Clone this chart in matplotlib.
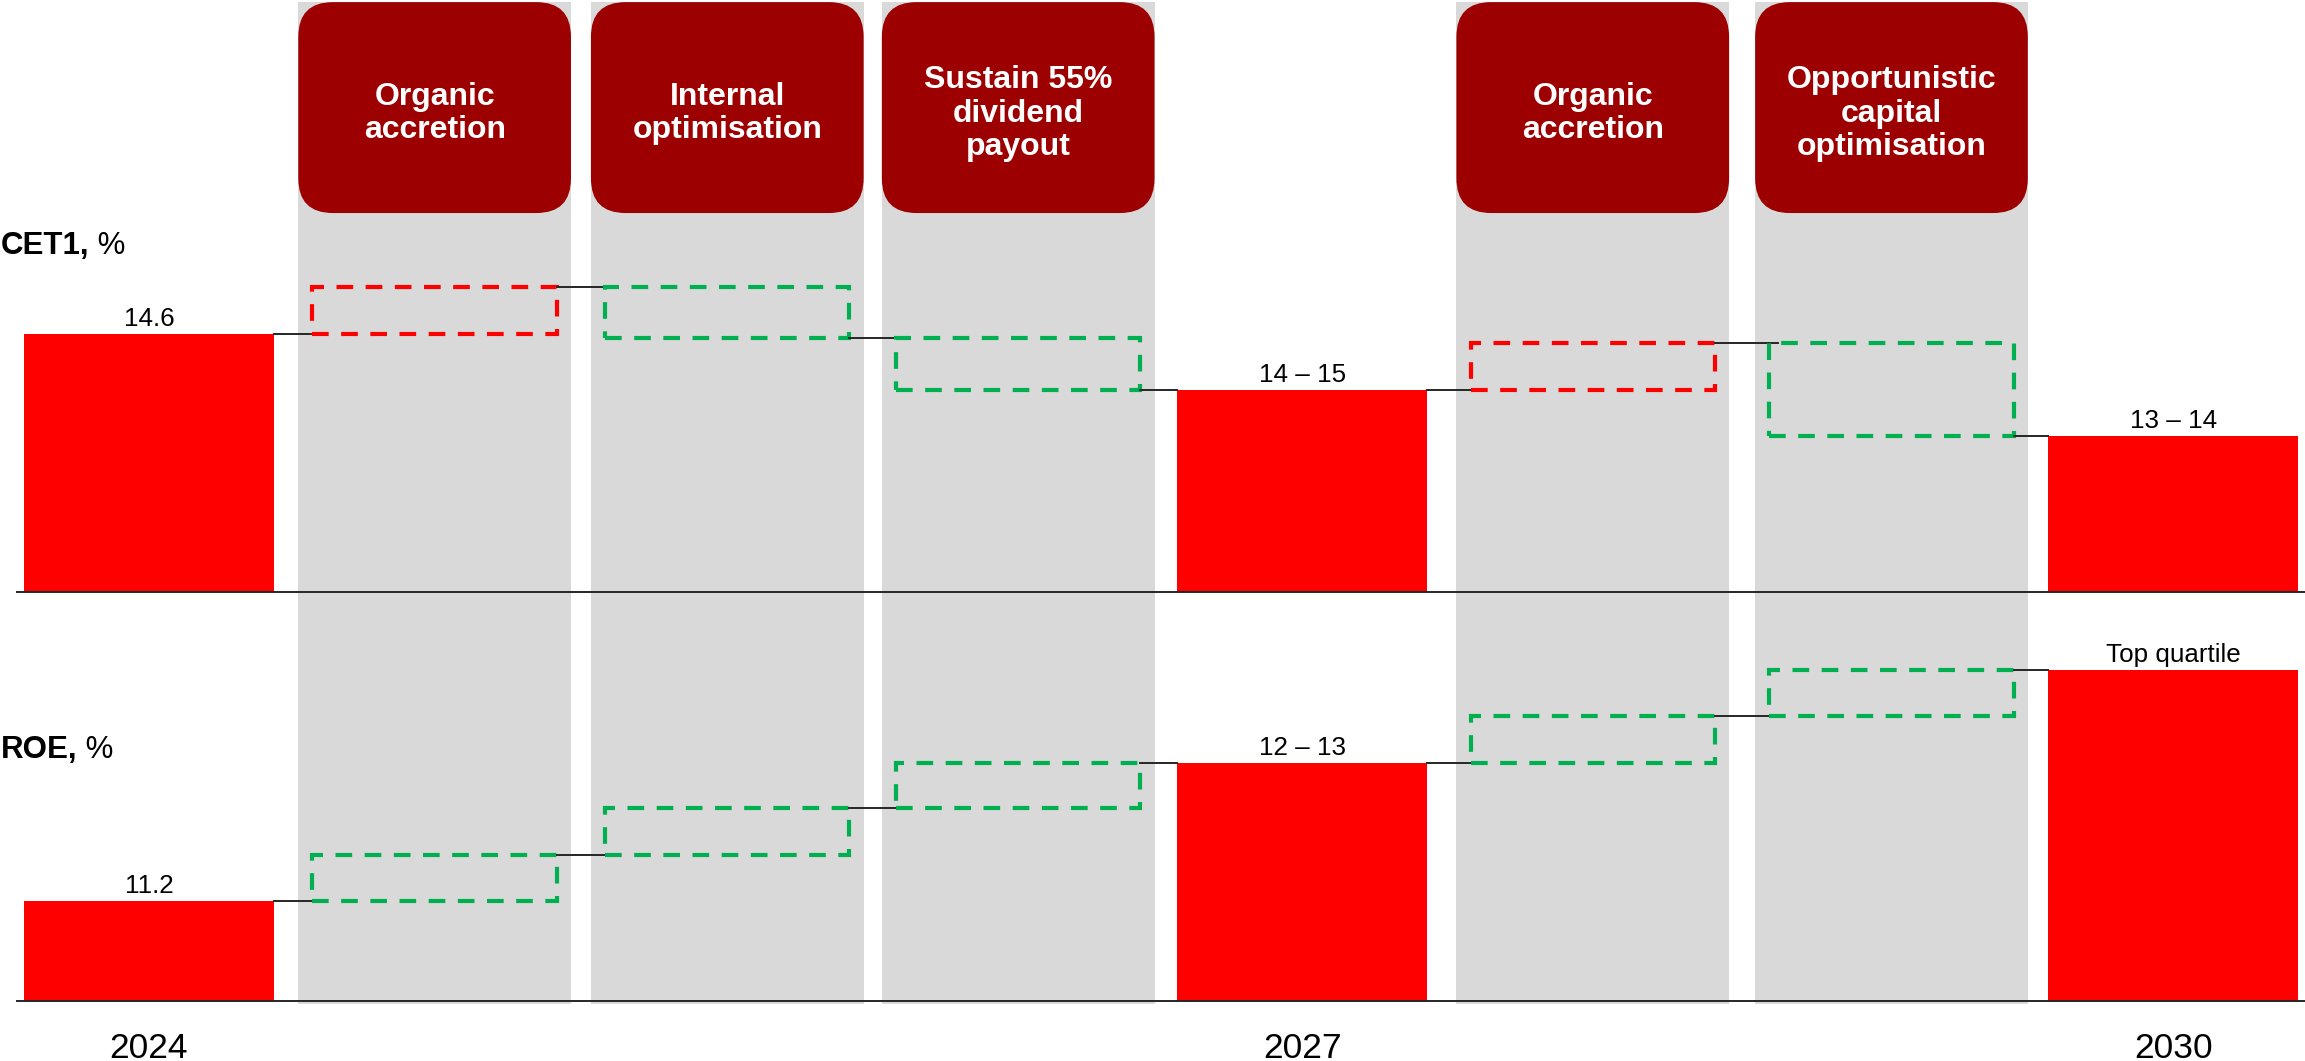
import matplotlib.pyplot as plt
from matplotlib.patches import FancyBboxPatch, Rectangle

plt.rcParams['font.family'] = ['Liberation Sans', 'DejaVu Sans']

years = ['2024', '2027', '2030']
levers = ['Organic\naccretion', 'Internal\noptimisation', 'Sustain 55%\ndividend\npayout',
          'Organic\naccretion', 'Opportunistic\ncapital\noptimisation']

# CET1 ratio: start / target points and the move of each lever in between
cet1_bars = [14.6, 14.0, 13.5]
cet1_labels = ['14.6', '14 – 15', '13 – 14']
cet1_steps = [0.5, -0.55, -0.55, 0.5, -1.0]
cet1_colors = ['red', 'green', 'green', 'red', 'green']

# ROE
roe_bars = [11.2, 12.5, 13.37]
roe_labels = ['11.2', '12 – 13', 'Top quartile']
roe_steps = [0.43, 0.44, 0.43, 0.44, 0.43]
roe_colors = ['green'] * 5

RED = '#FF0000'
GREEN = '#00B050'
DARK_RED = '#9C0000'
GREY = '#D9D9D9'
LINE = '#262626'
palette = {'red': RED, 'green': GREEN}

# horizontal slot centres (bar, 3 levers, bar, 2 levers, bar)
slot_x = [0, 0.988, 2.0, 3.006, 3.988, 4.993, 6.026, 7.0]
bar_slots = [0, 4, 7]
lever_slots = [1, 2, 3, 5, 6]
bar_w = 0.863
box_w = 0.845
col_w = 0.943
x_lo, x_hi = -0.515, 7.456

W, H = 2305, 1061
fig = plt.figure(figsize=(W / 100, H / 100), dpi=100)

# background: grey lever columns and the dark red headers
bg = fig.add_axes([0, 0, 1, 1])
bg.set_xlim(x_lo, x_hi)
bg.set_ylim(0, 1)
bg.axis('off')
aspect = (W / (x_hi - x_lo)) / H
for s, name in zip(lever_slots, levers):
    x = slot_x[s]
    bg.add_patch(Rectangle((x - col_w / 2, 0.054), col_w, 0.998 - 0.054,
                           facecolor=GREY, edgecolor='none'))
    bg.add_patch(FancyBboxPatch((x - col_w / 2, 0.7992), col_w, 0.998 - 0.7992,
                                boxstyle='round,pad=0,rounding_size=0.12',
                                mutation_aspect=aspect,
                                facecolor=DARK_RED, edgecolor='none'))
    bg.text(x, 0.893, name, color='white', fontsize=23, fontweight='bold',
            ha='center', va='center', linespacing=1.15)

for s, year in zip(bar_slots, years):
    bg.text(slot_x[s], 0.0028, year, fontsize=25.5, ha='center', va='baseline')

for y, head in [(0.7606, 'CET1,'), (0.2856, 'ROE,')]:
    t = bg.text(x_lo + 0.002, y, head, fontsize=22.5, fontweight='bold',
                ha='left', va='baseline')
    bg.annotate(' %', xy=(1, 0), xycoords=t, fontsize=22.5, ha='left', va='bottom')


def draw_panel(ax, bars, labels, steps, colors, floor, top):
    ax.set_xlim(x_lo, x_hi)
    ax.set_ylim(floor, top)
    ax.set_facecolor('none')
    ax.axis('off')

    xs = [slot_x[s] for s in bar_slots]
    ax.bar(xs, [b - floor for b in bars], bottom=floor, width=bar_w,
           color=RED, zorder=2)
    for x, b, t in zip(xs, bars, labels):
        ax.annotate(t, (x, b), xytext=(0, 5.8), textcoords='offset points',
                    ha='center', va='baseline', fontsize=18.7)

    ax.plot([-0.455, x_hi], [floor, floor], color=LINE, lw=1.4,
            clip_on=False, zorder=4)

    # walk the bridge: connector from the previous element, then the lever box
    level = bars[0]
    right = slot_x[0] + bar_w / 2
    k = 0
    for s in range(1, 8):
        x = slot_x[s]
        if s in bar_slots:
            ax.plot([right, x - bar_w / 2], [level, level], color=LINE,
                    lw=1.4, zorder=3)
            right = x + bar_w / 2
            continue
        d = steps[k]
        c = palette[colors[k]]
        k += 1
        ax.plot([right, x - box_w / 2 + 0.03], [level, level], color=LINE,
                lw=1.4, zorder=3)
        ax.add_patch(Rectangle((x - box_w / 2, min(level, level + d)), box_w, abs(d),
                               fill=False, edgecolor=c, lw=3.0,
                               linestyle=(0, (4, 3)), zorder=3))
        level += d
        right = x + box_w / 2


ax_cet1 = fig.add_axes([0, 0.44183, 1, 0.35042])
draw_panel(ax_cet1, cet1_bars, cet1_labels, cet1_steps, cet1_colors, 11.82, 15.82)

ax_roe = fig.add_axes([0, 0.05679, 1, 0.36150])
draw_panel(ax_roe, roe_bars, roe_labels, roe_steps, roe_colors, 10.26, 13.87)

fig.savefig('out.png', dpi=100)
